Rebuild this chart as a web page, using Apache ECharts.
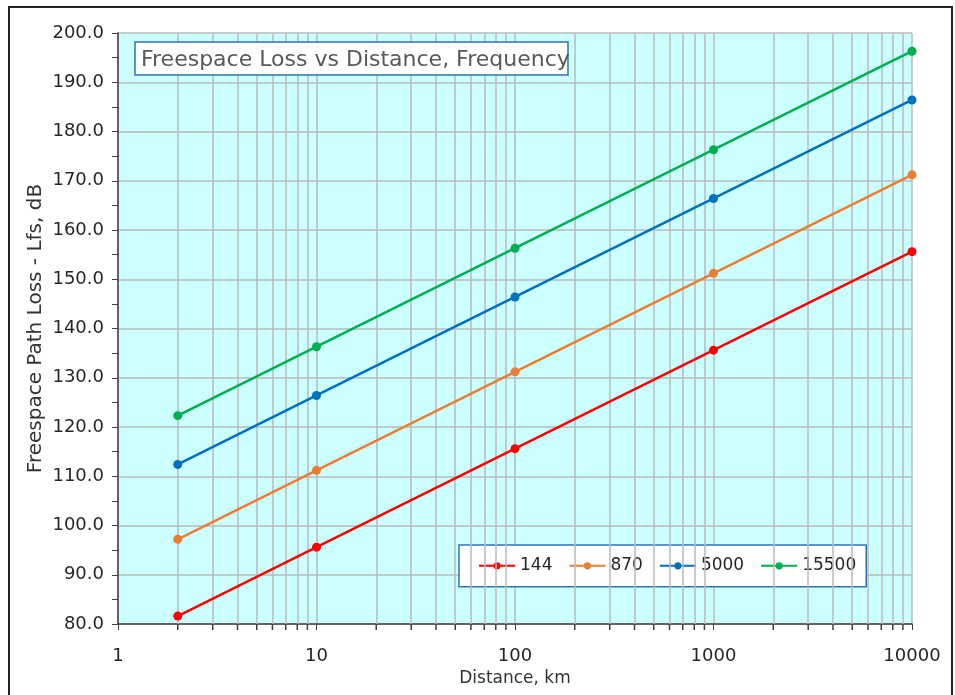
<html>
<head>
<style>
  *{box-sizing:border-box;}
  body,html{margin:0;padding:0;width:100%;height:100%;background:#fff;}
  #main{width:955px;height:695px;}
</style>
<script src="https://cdn.jsdelivr.net/npm/echarts@6/dist/echarts.min.js"></script>
</head>
<body>
<div id="main"></div>
<script>
// distances in km (log x axis)
var distances = [2, 10, 100, 1000, 10000];
// frequencies in MHz, one series each
var freqNames = ['144', '870', '5000', '15500'];
var loss144   = [81.6, 95.6, 115.6, 135.6, 155.6];
var loss870   = [97.2, 111.2, 131.2, 151.2, 171.2];
var loss5000  = [112.4, 126.4, 146.4, 166.4, 186.4];
var loss15500 = [122.3, 136.3, 156.3, 176.3, 196.3];
var colors = ['#ff0000', '#ed7d31', '#0070c0', '#00b050'];
// minor grid positions on the distance axis
var minorX = [];
for (var dec = 1; dec < 10000; dec *= 10) {
  for (var k = 2; k <= 9; k++) minorX.push(k * dec);
}

var font = 'DejaVu Sans, sans-serif';
var gridCol = '#bababa';
var axisCol = '#404040';
var chart = echarts.init(document.getElementById('main'));

function pairs(vals) {
  return distances.map(function (d, i) { return [d, vals[i]]; });
}

var allVals = [loss144, loss870, loss5000, loss15500];
var series = allVals.map(function (vals, i) {
  return {
    name: freqNames[i],
    type: 'line',
    data: pairs(vals),
    symbol: 'circle',
    symbolSize: 9,
    lineStyle: {width: 2.5, color: colors[i]},
    itemStyle: {color: colors[i]},
    z: 5
  };
});
// minor vertical grid lines
series.push({
  type: 'line',
  data: [],
  silent: true,
  z: 1,
  markLine: {
    silent: true,
    symbol: 'none',
    label: {show: false},
    lineStyle: {color: gridCol, type: 'solid', width: 1.5},
    data: minorX.map(function (v) { return {xAxis: v}; })
  }
});

var option = {
  animation: false,
  backgroundColor: '#fff',
  title: {
    text: 'Freespace Loss vs Distance, Frequency',
    left: 141, top: 38,
    padding: 0,
    z: 12,
    textStyle: {fontFamily: font, fontSize: 22, fontWeight: 'normal', color: '#595959'}
  },
  legend: {
    data: freqNames,
    left: 459, top: 545,
    padding: [4, 10, 4, 19],
    itemGap: 16,
    itemWidth: 36, itemHeight: 9,
    backgroundColor: '#fff',
    borderColor: '#2e75b6',
    borderWidth: 1.5,
    textStyle: {fontFamily: font, fontSize: 17, color: '#262626'}
  },
  grid: {left: 118, right: 43, top: 33, bottom: 71, show: true, backgroundColor: '#ccffff',
    borderWidth: 0, outerBoundsMode: 'none', containLabel: false},
  xAxis: {
    type: 'log', logBase: 10, min: 1, max: 10000,
    name: 'Distance, km', nameLocation: 'middle', nameGap: 38, nameMoveOverlap: false,
    nameTextStyle: {fontFamily: font, fontSize: 17, color: '#333'},
    axisLine: {lineStyle: {color: axisCol, width: 1.5}},
    axisTick: {show: true, length: 6, lineStyle: {color: axisCol}},
    axisLabel: {fontFamily: font, fontSize: 18, color: '#262626', margin: 14,
      formatter: function (v) { return String(v); }},
    splitLine: {show: true, lineStyle: {color: gridCol, width: 1.5}}
  },
  yAxis: {
    type: 'value', min: 80, max: 200, interval: 10,
    name: 'Freespace Path Loss - Lfs, dB', nameLocation: 'middle', nameGap: 62, nameMoveOverlap: false,
    nameTextStyle: {fontFamily: font, fontSize: 20, color: '#333'},
    axisLine: {show: true, lineStyle: {color: axisCol, width: 1.5}},
    axisTick: {show: true, length: 6, lineStyle: {color: axisCol}},
    minorTick: {show: true, splitNumber: 2, length: 6, lineStyle: {color: axisCol}},
    axisLabel: {fontFamily: font, fontSize: 18, color: '#262626', margin: 14,
      formatter: function (v) { return v.toFixed(1); }},
    splitLine: {show: true, lineStyle: {color: gridCol, width: 1.5}}
  },
  series: series
};
chart.setOption(option);

// outer frame, title box and the small ticks under the log axis
var extra = [{
  type: 'rect',
  shape: {x: 9, y: 7, width: 943, height: 700},
  style: {fill: 'none', stroke: '#222', lineWidth: 2},
  silent: true
}, {
  type: 'rect', z: 11,
  shape: {x: 135, y: 42, width: 433, height: 33},
  style: {fill: '#fff', stroke: '#2e75b6', lineWidth: 1.5},
  silent: true
}];
minorX.forEach(function (v) {
  var p = chart.convertToPixel({gridIndex: 0}, [v, 80]);
  extra.push({
    type: 'line', silent: true, z: 10,
    shape: {x1: p[0], y1: p[1], x2: p[0], y2: p[1] + 6},
    style: {stroke: axisCol, lineWidth: 1.5}
  });
});
chart.setOption({graphic: extra});
</script>
</body>
</html>
